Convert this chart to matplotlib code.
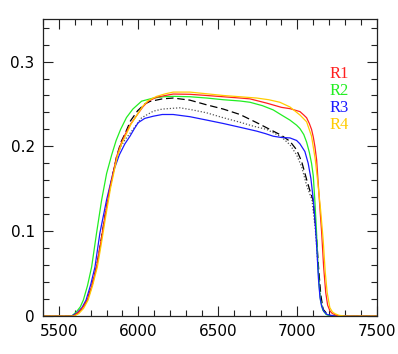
import matplotlib
matplotlib.use("Agg")
import matplotlib.pyplot as plt
from matplotlib.ticker import MultipleLocator, FuncFormatter

# R1 (red)
r1_x = [5400, 5590, 5620, 5650, 5679, 5708, 5737, 5760, 5790, 5820, 5845, 5863, 5890, 5916, 5950, 5995, 6030, 6062, 6115, 6170, 6219, 6324, 6430, 6534, 6640, 6702, 6807, 6900, 6953, 7016, 7040, 7058, 7075, 7089, 7100, 7110, 7121, 7129, 7137, 7145, 7152, 7165, 7178, 7190, 7205, 7220, 7245, 7275, 7500]
r1_y = [0, 0, 0.004, 0.010, 0.019, 0.036, 0.058, 0.083, 0.118, 0.150, 0.172, 0.188, 0.203, 0.214, 0.226, 0.238, 0.247, 0.2533, 0.258, 0.260, 0.2617, 0.2614, 0.260, 0.2585, 0.257, 0.256, 0.251, 0.246, 0.2445, 0.241, 0.237, 0.2337, 0.227, 0.220, 0.211, 0.200, 0.184, 0.162, 0.140, 0.118, 0.100, 0.058, 0.028, 0.013, 0.006, 0.003, 0.001, 0, 0]

# R2 (green)
r2_x = [5400, 5580, 5610, 5635, 5654, 5680, 5706, 5737, 5769, 5800, 5832, 5860, 5888, 5925, 5965, 6020, 6094, 6160, 6219, 6324, 6430, 6534, 6640, 6702, 6780, 6848, 6900, 6953, 6995, 7016, 7040, 7058, 7075, 7089, 7100, 7110, 7120, 7128, 7137, 7146, 7160, 7180, 7205, 7500]
r2_y = [0, 0, 0.005, 0.011, 0.019, 0.036, 0.058, 0.098, 0.137, 0.168, 0.190, 0.207, 0.220, 0.234, 0.244, 0.2533, 0.257, 0.2585, 0.259, 0.2585, 0.257, 0.255, 0.2535, 0.252, 0.248, 0.243, 0.237, 0.231, 0.225, 0.221, 0.214, 0.205, 0.193, 0.180, 0.165, 0.135, 0.100, 0.065, 0.035, 0.018, 0.007, 0.002, 0, 0]

# R3 (blue)
r3_x = [5400, 5580, 5615, 5645, 5671, 5700, 5727, 5758, 5800, 5842, 5880, 5915, 5947, 5975, 5999, 6040, 6094, 6150, 6219, 6324, 6430, 6534, 6640, 6744, 6800, 6848, 6900, 6953, 6995, 7016, 7047, 7068, 7085, 7100, 7112, 7122, 7132, 7142, 7152, 7165, 7185, 7210, 7240, 7500]
r3_y = [0, 0, 0.004, 0.010, 0.019, 0.037, 0.058, 0.098, 0.137, 0.170, 0.190, 0.203, 0.212, 0.221, 0.228, 0.233, 0.2356, 0.2376, 0.2376, 0.235, 0.231, 0.227, 0.2225, 0.218, 0.215, 0.212, 0.2105, 0.210, 0.207, 0.203, 0.194, 0.180, 0.162, 0.137, 0.110, 0.080, 0.045, 0.022, 0.012, 0.006, 0.002, 0.001, 0, 0]

# R4 (yellow)
r4_x = [5400, 5595, 5625, 5655, 5684, 5712, 5742, 5765, 5795, 5824, 5849, 5867, 5894, 5920, 5953, 5995, 6030, 6062, 6115, 6170, 6219, 6324, 6430, 6534, 6640, 6744, 6820, 6890, 6953, 7016, 7058, 7089, 7112, 7128, 7146, 7162, 7175, 7187, 7204, 7220, 7235, 7260, 7300, 7500]
r4_y = [0, 0, 0.003, 0.009, 0.019, 0.036, 0.058, 0.083, 0.118, 0.150, 0.172, 0.188, 0.203, 0.213, 0.226, 0.238, 0.248, 0.254, 0.259, 0.262, 0.264, 0.264, 0.262, 0.260, 0.2585, 0.257, 0.255, 0.252, 0.2465, 0.237, 0.229, 0.212, 0.185, 0.158, 0.125, 0.090, 0.052, 0.028, 0.010, 0.005, 0.003, 0.001, 0, 0]

# black dashed
dash_x = [5400, 5590, 5620, 5650, 5679, 5708, 5737, 5760, 5790, 5820, 5845, 5863, 5890, 5916, 5950, 5995, 6040, 6073, 6150, 6219, 6324, 6429, 6534, 6639, 6744, 6848, 6900, 6953, 6995, 7027, 7058, 7080, 7098, 7118, 7132, 7147, 7162, 7194, 7220, 7500]
dash_y = [0, 0, 0.004, 0.010, 0.019, 0.036, 0.058, 0.083, 0.118, 0.150, 0.172, 0.188, 0.205, 0.215, 0.230, 0.242, 0.250, 0.253, 0.256, 0.257, 0.2545, 0.249, 0.244, 0.2376, 0.228, 0.218, 0.213, 0.206, 0.196, 0.182, 0.161, 0.147, 0.137, 0.100, 0.060, 0.025, 0.008, 0.001, 0, 0]

# black dotted
dot_x = [5400, 5590, 5620, 5650, 5679, 5708, 5737, 5760, 5790, 5820, 5845, 5863, 5890, 5920, 5958, 6020, 6094, 6150, 6261, 6340, 6429, 6530, 6639, 6720, 6807, 6850, 6900, 6953, 6995, 7027, 7058, 7092, 7114, 7129, 7144, 7160, 7190, 7220, 7500]
dot_y = [0, 0, 0.004, 0.010, 0.019, 0.036, 0.058, 0.083, 0.118, 0.150, 0.172, 0.187, 0.200, 0.209, 0.218, 0.2337, 0.2415, 0.244, 0.2455, 0.243, 0.2396, 0.234, 0.2285, 0.224, 0.220, 0.216, 0.211, 0.202, 0.190, 0.176, 0.154, 0.137, 0.100, 0.060, 0.025, 0.007, 0.001, 0, 0]

labels = ["R1", "R2", "R3", "R4"]
colors = ["#ff2020", "#22ee22", "#1a1aff", "#ffcc00"]

fig = plt.figure(figsize=(3.98, 3.54), dpi=100)
ax = fig.add_axes([0.108, 0.107, 0.839, 0.839])

lw = 0.9
ax.plot(dot_x, dot_y, color="#555555", lw=lw, ls=(0, (1, 1.5)))
ax.plot(dash_x, dash_y, color="black", lw=lw, ls=(0, (6, 3)))
for xs, ys, c in [(r2_x, r2_y, colors[1]), (r3_x, r3_y, colors[2]),
                  (r1_x, r1_y, colors[0]), (r4_x, r4_y, colors[3])]:
    ax.plot(xs, ys, color=c, lw=lw)

ax.set_xlim(5400, 7500)
ax.set_ylim(0, 0.35)
ax.xaxis.set_major_locator(MultipleLocator(500))
ax.xaxis.set_minor_locator(MultipleLocator(100))
ax.yaxis.set_major_locator(MultipleLocator(0.1))
ax.yaxis.set_minor_locator(MultipleLocator(0.02))
ax.yaxis.set_major_formatter(FuncFormatter(lambda v, p: "0" if abs(v) < 1e-9 else f"{v:.1f}"))
ax.tick_params(which="both", direction="in", top=True, right=True, width=0.8, color="#222222")
ax.tick_params(which="major", length=7.5, labelsize=11, pad=6)
ax.tick_params(which="minor", length=4.5)
for s in ax.spines.values():
    s.set_linewidth(0.9)
    s.set_color("#222222")

for i, (lab, c) in enumerate(zip(labels, colors)):
    ax.text(0.859, 0.8165 - i * 0.0572, lab, color=c, transform=ax.transAxes,
            fontsize=12, family="Liberation Serif", va="center", ha="left")

fig.savefig("out.png", dpi=100)
